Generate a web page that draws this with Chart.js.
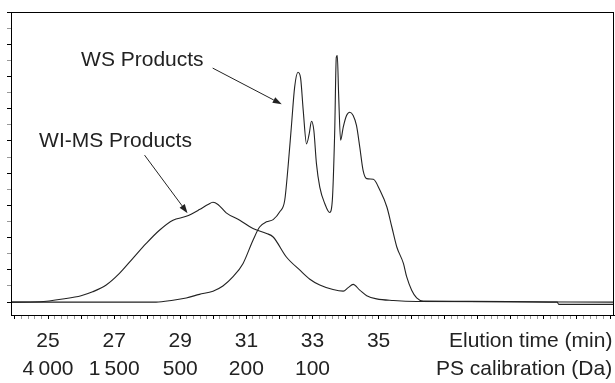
<!DOCTYPE html>
<html>
<head>
<meta charset="utf-8">
<script src="https://cdn.jsdelivr.net/npm/chart.js@4/dist/chart.umd.min.js"></script>
<style>
  html, body { margin: 0; padding: 0; background: #fff; }
  #wrap { width: 615px; height: 383px; position: relative; }
</style>
</head>
<body>
<div id="wrap"><canvas id="c" width="615" height="383"></canvas></div>
<script>
// ---- Data (elution time in min, detector signal in arbitrary units) ----
const wimsTime = [23.88, 24.74, 25.54, 26.00, 26.35, 26.76, 27.16, 27.56, 27.97, 28.37, 28.78, 29.18, 29.58, 29.84, 29.99, 30.14, 30.39, 30.80, 31.20, 31.61, 31.81, 32.21, 32.62, 32.92, 33.22, 33.62, 33.93, 34.08, 34.23, 34.43, 34.64, 34.94, 35.45, 36.15, 42.12];
const wimsSignal = [0, 0.01, 0.11, 0.20, 0.32, 0.53, 0.89, 1.35, 1.82, 2.23, 2.54, 2.66, 2.87, 3.03, 3.10, 3.03, 2.77, 2.54, 2.28, 2.13, 2.02, 1.40, 0.99, 0.71, 0.53, 0.39, 0.34, 0.45, 0.55, 0.37, 0.20, 0.10, 0.05, 0.02, 0];

const wsTime = [23.88, 28.27, 28.78, 29.18, 29.58, 29.99, 30.29, 30.59, 30.90, 31.20, 31.40, 31.61, 31.81, 32.01, 32.16, 32.26, 32.36, 32.46, 32.56, 32.64, 32.72, 32.82, 32.90, 32.97, 33.04, 33.12, 33.22, 33.37, 33.52, 33.60, 33.67, 33.72, 33.75, 33.79, 33.85, 33.93, 34.03, 34.13, 34.23, 34.33, 34.43, 34.53, 34.64, 34.84, 35.04, 35.25, 35.40, 35.55, 35.75, 35.85, 36.00, 36.15, 36.35, 40.40, 40.45, 42.12];
const wsSignal = [0, 0, 0.06, 0.13, 0.24, 0.34, 0.50, 0.78, 1.20, 1.92, 2.33, 2.49, 2.56, 2.80, 3.16, 4.19, 5.43, 6.67, 7.13, 6.95, 5.94, 4.91, 5.22, 5.61, 5.33, 4.29, 3.57, 3.06, 2.78, 3.16, 5.22, 7.59, 7.65, 6.46, 5.02, 5.43, 5.79, 5.89, 5.79, 5.48, 4.81, 4.09, 3.83, 3.81, 3.47, 2.95, 2.33, 1.71, 1.20, 0.78, 0.37, 0.13, 0.03, 0, -0.07, -0.07];

// ---- Tick labels ----
const elutionTicks = [25, 27, 29, 31, 33, 35];
const elutionTitle = 'Elution time (min)';
const psTickTimes = [25, 27, 29, 31, 33];
const psLabels = ['4\u2009000', '1\u2009500', '500', '200', '100'];
const psTitle = 'PS calibration (Da)';

// ---- Annotations ----
const annoLabels = ['WS Products', 'WI-MS Products'];

const FONT = "'Liberation Sans', Arial, Helvetica, sans-serif";
const INK = '#222';
const X_MIN = 23.88, X_MAX = 42.12;

function toPts(xs, ys) { return xs.map((x, i) => ({ x: x, y: ys[i] })); }
const r1 = v => Math.round(v * 10) / 10;
const isMajor = v => Math.abs(v - Math.round(v)) < 1e-6;

const annotationPlugin = {
  id: 'annotations',
  afterDatasetsDraw(chart) {
    const { ctx, scales: { x, y } } = chart;
    const items = [
      { text: annoLabels[0], tx: 26.00, ty: 7.32, x1: 29.98, y1: 7.26, x2: 32.07, y2: 6.14 },
      { text: annoLabels[1], tx: 24.73, ty: 4.81, x1: 27.92, y1: 4.56, x2: 29.22, y2: 2.76 }
    ];
    ctx.save();
    ctx.fillStyle = INK;
    ctx.strokeStyle = INK;
    ctx.font = '21px ' + FONT;
    ctx.textAlign = 'left';
    ctx.textBaseline = 'alphabetic';
    items.forEach(a => {
      ctx.fillText(a.text, x.getPixelForValue(a.tx), y.getPixelForValue(a.ty));
      const px1 = x.getPixelForValue(a.x1), py1 = y.getPixelForValue(a.y1);
      const px2 = x.getPixelForValue(a.x2), py2 = y.getPixelForValue(a.y2);
      const ang = Math.atan2(py2 - py1, px2 - px1);
      const L = 9, W = 3.2;
      const bx = px2 - L * Math.cos(ang), by = py2 - L * Math.sin(ang);
      ctx.lineWidth = 1;
      ctx.beginPath();
      ctx.moveTo(px1, py1);
      ctx.lineTo(bx, by);
      ctx.stroke();
      ctx.beginPath();
      ctx.moveTo(px2, py2);
      ctx.lineTo(bx + W * Math.sin(ang), by - W * Math.cos(ang));
      ctx.lineTo(bx - W * Math.sin(ang), by + W * Math.cos(ang));
      ctx.closePath();
      ctx.fill();
    });
    ctx.restore();
  }
};

// Box around the plot area
const framePlugin = {
  id: 'frame',
  afterDraw(chart) {
    const { ctx, chartArea: a } = chart;
    const l = Math.round(a.left), t = Math.round(a.top);
    const r = Math.min(Math.round(a.right), 614), b = Math.round(a.bottom);
    ctx.save();
    ctx.strokeStyle = '#000';
    ctx.lineWidth = 1;
    ctx.strokeRect(l + 0.5, t + 0.5, r - l - 1, b - t);
    ctx.restore();
  }
};

new Chart(document.getElementById('c'), {
  type: 'line',
  data: {
    datasets: [
      { label: 'WI-MS Products', data: toPts(wimsTime, wimsSignal), borderColor: INK, borderWidth: 1.1, pointRadius: 0, cubicInterpolationMode: 'monotone', fill: false },
      { label: 'WS Products', data: toPts(wsTime, wsSignal), borderColor: INK, borderWidth: 1.1, pointRadius: 0, cubicInterpolationMode: 'monotone', fill: false }
    ]
  },
  options: {
    responsive: false,
    animation: false,
    layout: { padding: { left: 7, top: 12, right: 1, bottom: 1.6 } },
    plugins: { legend: { display: false }, tooltip: { enabled: false } },
    scales: {
      x: {
        type: 'linear', position: 'bottom', weight: 0,
        min: X_MIN, max: X_MAX,
        afterFit: s => { s.paddingLeft = 0; s.paddingRight = 0; s.height = 41.4; },
        border: { display: true, color: '#000', width: 1 },
        grid: { drawOnChartArea: false, drawTicks: true, tickLength: 4,
                tickColor: c => isMajor(c.tick.value) ? '#000' : '#999', tickWidth: 1 },
        ticks: {
          stepSize: 0.2, includeBounds: false, autoSkip: false, maxRotation: 0, minRotation: 0,
          padding: 10, color: INK, font: { family: FONT, size: 21 },
          callback: v => {
            const t = r1(v);
            if (elutionTicks.some(e => Math.abs(e - t) < 1e-6)) return String(Math.round(t));
            if (Math.abs(t - 39.6) < 1e-6) return elutionTitle;
            return '';
          }
        }
      },
      x2: {
        type: 'linear', position: 'bottom', weight: 1,
        min: X_MIN, max: X_MAX,
        afterFit: s => { s.paddingLeft = 0; s.paddingRight = 0; s.height = 25; },
        border: { display: false },
        grid: { display: false, drawTicks: false },
        ticks: {
          stepSize: 0.2, includeBounds: false, autoSkip: false, maxRotation: 0, minRotation: 0,
          padding: 0, color: INK, font: { family: FONT, size: 21 },
          callback: v => {
            const t = r1(v);
            const i = psTickTimes.findIndex(e => Math.abs(e - t) < 1e-6);
            if (i >= 0) return psLabels[i];
            if (Math.abs(t - 39.4) < 1e-6) return psTitle;
            return '';
          }
        }
      },
      y: {
        type: 'linear', position: 'left',
        min: -0.4, max: 9,
        border: { display: true, color: '#000', width: 1 },
        grid: { drawOnChartArea: false, drawTicks: true, tickLength: 4,
                tickColor: c => isMajor(c.tick.value) ? '#000' : '#999', tickWidth: 1 },
        ticks: { display: false, stepSize: 0.5, includeBounds: false, autoSkip: false }
      }
    }
  },
  plugins: [annotationPlugin, framePlugin]
});
</script>
</body>
</html>
